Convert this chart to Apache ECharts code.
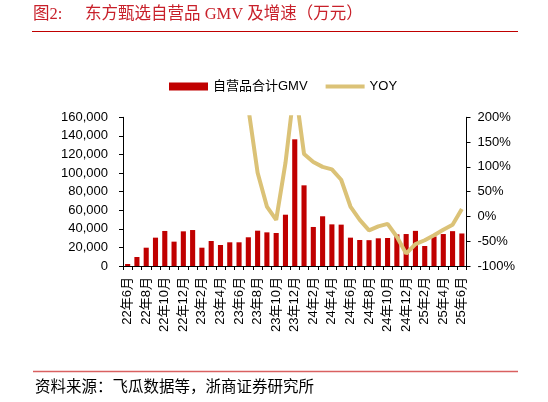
<!DOCTYPE html>
<html><head><meta charset="utf-8">
<script src="https://cdn.jsdelivr.net/npm/echarts@6/dist/echarts.min.js"></script>
<style>html,body{margin:0;padding:0;background:#fff}#c{width:548px;height:402px}</style>
</head><body><div id="c"></div>
<script>
const categories = ['22年6月','22年7月','22年8月','22年9月','22年10月','22年11月','22年12月',
 '23年1月','23年2月','23年3月','23年4月','23年5月','23年6月','23年7月','23年8月','23年9月','23年10月','23年11月','23年12月',
 '24年1月','24年2月','24年3月','24年4月','24年5月','24年6月','24年7月','24年8月','24年9月','24年10月','24年11月','24年12月',
 '25年1月','25年2月','25年3月','25年4月','25年5月','25年6月'];
const gmv = [2150, 9700, 19700, 30500, 37700, 26200, 37300, 38700, 19700, 26900, 22600, 25500,
 25500, 30900, 38000, 36200, 35500, 55200, 136300, 86800, 42000, 53500, 44800, 44500,
 30500, 28000, 27800, 29800, 30100, 34000, 34400, 37800, 21500, 31800, 34400, 37500, 35000];
const yoy = [null, null, null, null, null, null, null, null, null, null, null, null,
 1090, 219, 88, 20, -7, 108, 265, 126, 110, 100, 95, 74,
 20, -7, -28, -20, -15, -41, -75, -56, -48, -38, -27, -17, 15];
const leftTicks = {min: 0, max: 160000, interval: 20000};
const rightTicks = {min: -100, max: 200, interval: 50};

const RED = '#C00000', GOLD = '#DBC277';
const latin = "'Liberation Sans', Arial, sans-serif";
const cjk = "'Liberation Sans', 'Noto Sans CJK SC', sans-serif";
const serifT = "'Liberation Serif', 'Noto Sans CJK SC', serif";

const chart = echarts.init(document.getElementById('c'), null, {renderer: 'canvas'});
chart.setOption({
  animation: false,
  backgroundColor: '#fff',
  grid: {left: 123, right: 81.5, top: 117.3, bottom: 136, containLabel: false},
  legend: {
    left: 164, top: 75, itemGap: 18, itemWidth: 39, itemHeight: 8,
    textStyle: {fontSize: 13, color: '#000', fontFamily: cjk},
    data: [{name: '自营品合计GMV', icon: 'rect'},
           {name: 'YOY', icon: 'path://M0,0 L40,0 L40,4 L0,4 Z', itemStyle: {color: GOLD}}]
  },
  xAxis: {
    type: 'category', data: categories, boundaryGap: true,
    axisLine: {lineStyle: {color: '#000', width: 1}},
    axisTick: {show: true, interval: 0, length: 4, lineStyle: {color: '#000'}},
    axisLabel: {interval: 1, rotate: 90, fontSize: 13, color: '#000', margin: 11, fontFamily: cjk}
  },
  yAxis: [{
    type: 'value', min: leftTicks.min, max: leftTicks.max, interval: leftTicks.interval,
    axisLine: {show: true, lineStyle: {color: '#000'}},
    axisTick: {show: true, length: 4, lineStyle: {color: '#000'}},
    splitLine: {show: false},
    axisLabel: {fontSize: 13, color: '#000', margin: 15, fontFamily: latin,
      formatter: v => v.toLocaleString('en-US')}
  }, {
    type: 'value', min: rightTicks.min, max: rightTicks.max, interval: rightTicks.interval,
    axisLine: {show: true, lineStyle: {color: '#000'}},
    axisTick: {show: true, length: 4, lineStyle: {color: '#000'}},
    splitLine: {show: false},
    axisLabel: {fontSize: 13, color: '#000', margin: 11, fontFamily: latin, formatter: '{value}%'}
  }],
  series: [{
    name: '自营品合计GMV', type: 'bar', data: gmv, barWidth: '55%',
    itemStyle: {color: RED}
  }, {
    name: 'YOY', type: 'line', yAxisIndex: 1, data: yoy, symbol: 'none', clip: true,
    lineStyle: {color: GOLD, width: 4}, itemStyle: {color: GOLD}
  }],
  graphic: [
    {type: 'text', left: 33, top: 6, style: {text: '图2:', fill: '#C8202A', fontSize: 16.5, fontFamily: serifT}},
    {type: 'text', left: 85, top: 6, style: {text: '东方甄选自营品 GMV 及增速（万元）', fill: '#C8202A', fontSize: 16.5, fontFamily: serifT}},
    {type: 'line', shape: {x1: 32, y1: 31.5, x2: 518, y2: 31.5}, style: {stroke: '#C00000', lineWidth: 1}},
    {type: 'line', shape: {x1: 33, y1: 371.5, x2: 518, y2: 371.5}, style: {stroke: '#D96060', lineWidth: 1.5}},
    {type: 'text', left: 35, top: 380, style: {text: '资料来源：飞瓜数据等，浙商证券研究所', fill: '#000', fontSize: 15.5, fontFamily: serifT}}
  ]
});
</script></body></html>
